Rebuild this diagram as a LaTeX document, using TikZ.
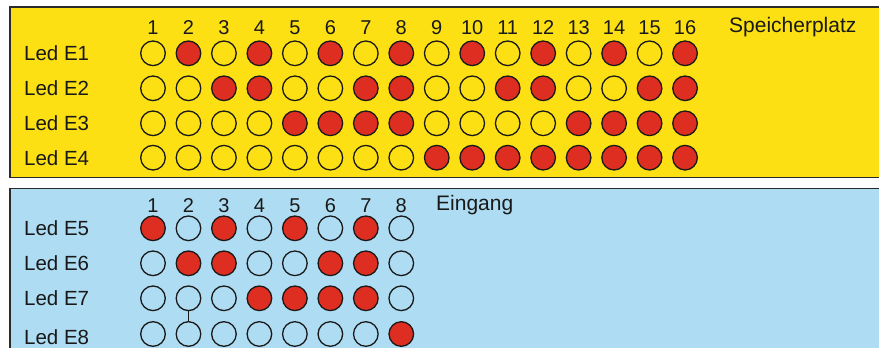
\documentclass[tikz,border=0pt]{standalone}
\usepackage{fontspec}
\setmainfont{Liberation Sans}
\definecolor{panelyellow}{HTML}{FCE013}
\definecolor{panelblue}{HTML}{AEDCF2}
\definecolor{ledred}{HTML}{DE2D21}
\definecolor{edgegray}{HTML}{2B2B2B}
\tikzset{
  panel/.style={draw=edgegray, line width=1.6pt},
  led/.style={circle, draw=black!90, line width=1.3pt, minimum size=24.6pt, inner sep=0pt},
  rowlabel/.style={anchor=west, inner sep=0pt, font=\fontsize{20.5}{24}\selectfont, text=black!90},
  colnum/.style={inner sep=0pt, font=\fontsize{20}{24}\selectfont, text=black!90},
  title/.style={anchor=west, inner sep=0pt, font=\fontsize{21}{25}\selectfont, text=black!90},
  link/.style={draw=black!90, line width=1.3pt}
}
\begin{document}
\begin{tikzpicture}[x=1pt,y=-1pt]
\useasboundingbox (0,0) rectangle (879,348);
\clip (0,0) rectangle (879,348);
% panels
\path[panel, fill=panelyellow] (10,7) rectangle (892,177.5);
\path[panel, fill=panelblue] (10,188.5) rectangle (892,370);
% top panel
\foreach \k in {1,...,16} {
  \node[colnum] (tn\k) at ({153+(\k-1)*35.47},27.3) {\k};
}
\node[title] (speicher) at (729,27.5) {Speicherplatz};
\foreach \r/\y in {1/53.3,2/88.3,3/123.3,4/157.7} {
  \node[rowlabel] (tl\r) at (24,\y) {Led E\r};
  \foreach \k in {1,...,16} {
    \pgfmathtruncatemacro\on{mod(floor((\k-1)/(2^(\r-1))),2)}
    \ifnum\on=1 \def\ledfill{ledred}\else\def\ledfill{none}\fi
    \node[led, fill=\ledfill] (t\r-\k) at ({153+(\k-1)*35.47},\y) {};
  }
}
% bottom panel
\foreach \k in {1,...,8} {
  \node[colnum] (bn\k) at ({153+(\k-1)*35.47},205.7) {\k};
}
\node[title] (eingang) at (436,205.5) {Eingang};
\def\patA{{1,0,1,0,1,0,1,0}}
\def\patB{{0,1,1,0,0,1,1,0}}
\def\patC{{0,0,0,1,1,1,1,0}}
\def\patD{{0,0,0,0,0,0,0,1}}
\foreach \r/\n/\y/\ly/\pat in {1/5/228.3/228.3/\patA,2/6/263.3/263.3/\patB,3/7/298.3/298.3/\patC,4/8/334/337/\patD} {
  \node[rowlabel] (bl\r) at (24,\ly) {Led E\n};
  \foreach \k in {1,...,8} {
    \pgfmathtruncatemacro\on{\pat[\k-1]}
    \ifnum\on=1 \def\ledfill{ledred}\else\def\ledfill{none}\fi
    \node[led, fill=\ledfill] (b\r-\k) at ({153+(\k-1)*35.47},\y) {};
  }
}
\draw[link] (b3-2) -- (b4-2);
\end{tikzpicture}
\end{document}
